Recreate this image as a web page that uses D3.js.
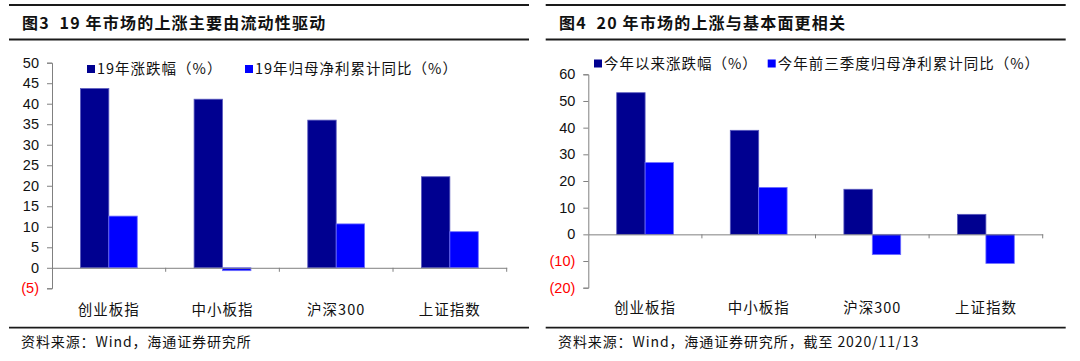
<!DOCTYPE html>
<html><head><meta charset="utf-8">
<script src="https://cdn.jsdelivr.net/npm/d3@7"></script>
<style>
html,body{margin:0;padding:0;background:#fff;}
svg{display:block;}
text{white-space:pre;}
</style></head>
<body>
<svg id="c" width="1080" height="361"></svg>
<script>
const categories = ["创业板指","中小板指","沪深300","上证指数"];

const leftTitle = "图3  19 年市场的上涨主要由流动性驱动";
const leftSeriesNames = ["19年涨跌幅（%）","19年归母净利累计同比（%）"];
const leftReturn = [43.7, 41.1, 36.0, 22.2];
const leftProfit = [12.6, -0.7, 10.7, 8.8];
const leftTicks = [-5,0,5,10,15,20,25,30,35,40,45,50];
const leftSource = "资料来源：Wind，海通证券研究所";

const rightTitle = "图4  20 年市场的上涨与基本面更相关";
const rightSeriesNames = ["今年以来涨跌幅（%）","今年前三季度归母净利累计同比（%）"];
const rightReturn = [53.1, 39.0, 16.9, 7.5];
const rightProfit = [26.9, 17.6, -7.6, -10.9];
const rightTicks = [-20,-10,0,10,20,30,40,50,60];
const rightSource = "资料来源：Wind，海通证券研究所，截至 2020/11/13";

const colors = ["#000090","#0000FF"];
const CJK = "'Noto Sans CJK SC','Noto Sans',sans-serif";
const NUM = "'Liberation Sans',Arial,sans-serif";

const svg = d3.select("#c");

function panel(o){
  const g = svg.append("g");
  [5,39.5,327.7].forEach(y=>{
    g.append("line").attr("x1",o.x0).attr("x2",o.x1).attr("y1",y).attr("y2",y)
     .attr("stroke","#1a1a1a").attr("stroke-width",1.8);
  });
  g.append("text").attr("x",o.titleX).attr("y",29).text(o.title)
   .attr("font-family",CJK).attr("font-weight","bold").attr("font-size",16)
   .attr("letter-spacing",1.2).attr("fill","#111");
  g.append("text").attr("x",o.titleX-1).attr("y",347).text(o.source)
   .attr("font-family",CJK).attr("font-size",14).attr("letter-spacing",0.9).attr("fill","#111");

  const y = d3.scaleLinear().domain(o.domain).range([o.yb,o.yt]);
  const x = d3.scaleBand().domain(categories).range([o.ax,o.ax1]).paddingInner(0).paddingOuter(0);
  const xs = d3.scaleBand().domain([0,1]).range([0,x.bandwidth()]).paddingOuter(1).paddingInner(0);

  [o.s1,o.s2].forEach((vals,si)=>{
    g.append("g").selectAll("rect").data(vals).join("rect")
      .attr("x",(d,i)=>x(categories[i])+xs(si))
      .attr("width",xs.bandwidth())
      .attr("y",d=>y(Math.max(0,d)))
      .attr("height",d=>Math.abs(y(d)-y(0)))
      .attr("fill",colors[si])
      .attr("stroke", si===0?"#5b5bbf":"#6f6fff").attr("stroke-width",0.8);
  });

  const ya = d3.axisLeft(y).tickValues(o.ticks).tickSize(5).tickPadding(8)
    .tickFormat(d=> d<0 ? "("+(-d)+")" : d);
  const yg = g.append("g").attr("transform",`translate(${o.ax},0)`).call(ya);
  yg.select(".domain").attr("stroke","#808080");
  yg.selectAll(".tick line").attr("stroke","#808080");
  yg.selectAll(".tick text").attr("font-family",NUM).attr("font-size",14.5)
    .attr("fill",d=> d<0 ? "#FF0000" : "#111");

  const xa = d3.axisBottom(x).tickSize(0).tickFormat("");
  const xg = g.append("g").attr("transform",`translate(0,${y(0)})`).call(xa);
  xg.select(".domain").attr("stroke","#808080");
  const bounds = categories.map(c=>x(c)+x.bandwidth());
  xg.selectAll("line.bt").data(bounds).join("line").attr("class","bt")
    .attr("x1",d=>d).attr("x2",d=>d).attr("y1",0).attr("y2",4).attr("stroke","#808080");
  g.append("g").selectAll("text").data(categories).join("text")
    .attr("x",d=>x(d)+x.bandwidth()/2).attr("y",o.catY).attr("text-anchor","middle")
    .attr("font-family",CJK).attr("font-size",14.5).attr("letter-spacing",1).attr("fill","#111").text(d=>d);

  o.names.forEach((n,i)=>{
    const lg = g.append("g");
    lg.append("rect").attr("x",o.legSq[i]).attr("y",o.legY-4).attr("width",8).attr("height",8).attr("fill",colors[i]);
    lg.append("text").attr("x",o.legSq[i]+10).attr("y",o.legY+5).text(n)
      .attr("font-family",CJK).attr("font-size",14.5).attr("letter-spacing",1).attr("fill","#111");
  });
}

panel({x0:9,x1:529,titleX:22,title:leftTitle,source:leftSource,
  domain:[-5,50],yb:288.3,yt:62.7,ax:52,ax1:506.7,s1:leftReturn,s2:leftProfit,
  ticks:leftTicks,catY:314.5,names:leftSeriesNames,legSq:[87,245],legY:69});
panel({x0:545.7,x1:1065.7,titleX:559,title:rightTitle,source:rightSource,
  domain:[-20,60],yb:287.7,yt:74.3,ax:588.3,ax1:1042.7,s1:rightReturn,s2:rightProfit,
  ticks:rightTicks,catY:312.5,names:rightSeriesNames,legSq:[594,767.7],legY:63.5});
</script>
</body></html>
